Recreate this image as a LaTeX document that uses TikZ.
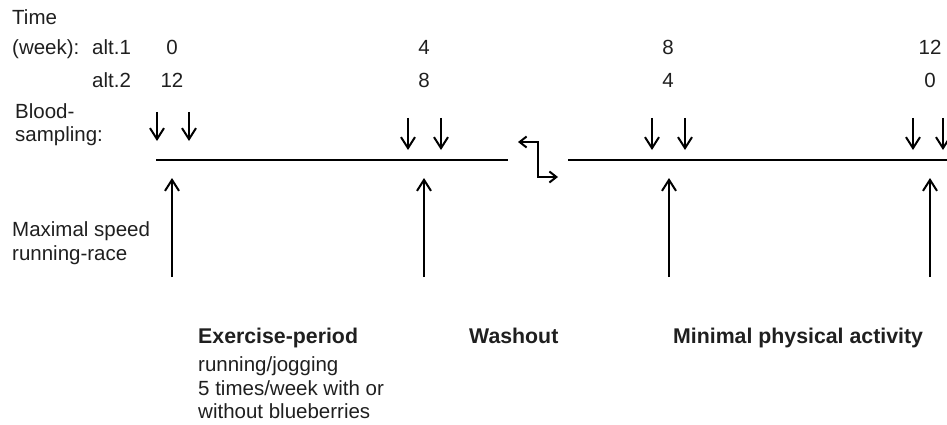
\documentclass[tikz,border=0pt]{standalone}
\usepackage{fontspec}
\setmainfont{Liberation Sans}
\usetikzlibrary{arrows.meta}

\tikzset{
  lbl/.style={inner sep=0pt,anchor=base west},
  wk/.style={inner sep=0pt,anchor=base},
  hd/.style={lbl,font=\fontsize{21.3}{24}\selectfont\bfseries},
  tick/.style={line width=2pt,-{Straight Barb[length=11pt,width=14pt,line width=2pt]}},
  swap/.style={line width=2pt,{Straight Barb[length=7pt,width=11pt,line width=2pt]}-{Straight Barb[length=7pt,width=11pt,line width=2pt]}}
}

\begin{document}
\begin{tikzpicture}
            [x=1pt,y=-1pt,every node/.style={font=\fontsize{20.5}{24}\selectfont,text=black!88}]
            \useasboundingbox (0,0) rectangle (947,425);
            % time axis labels
            \node[lbl] (time) at (12,25) {Time};
            \node[lbl] (week) at (12,55) {(week):};
            \node[lbl] (alt1) at (92,55) {alt.1};
            \node[lbl] (alt2) at (92,88) {alt.2};
            \node[wk] (a0) at (172,55) {0};
            \node[wk] (a4) at (424,55) {4};
            \node[wk] (a8) at (668,55) {8};
            \node[wk] (a12) at (930,55) {12};
            \node[wk] (b12) at (172,88) {12};
            \node[wk] (b8) at (424,88) {8};
            \node[wk] (b4) at (668,88) {4};
            \node[wk] (b0) at (930,88) {0};
            \node[lbl] (blood) at (15,118) {Blood-};
            \node[lbl] (sampl) at (15,142) {sampling:};
            \node[lbl] (maxsp) at (12,236) {Maximal speed};
            \node[lbl] (race) at (12,260) {running-race};
            % periods
            \node[hd] (exper) at (198,343) {Exercise-period};
            \node[lbl] (run) at (198,371) {running/jogging};
            \node[lbl] (times) at (198,395) {5 times/week with or};
            \node[lbl] (berry) at (198,418) {without blueberries};
            \node[hd] (wash) at (469,343) {Washout};
            \node[hd] (minim) at (673,343) {Minimal physical activity};
            % the two periods
            \draw[line width=2.6pt] (156,160) -- (508,160);
            \draw[line width=2.6pt] (568,160) -- (947,160);
            \draw[swap] (518,142) -- (538,142) -- (538,177) -- (558,177);
            % blood sampling
            \draw[tick] (157,112) -- (157,141);
            \draw[tick] (189,112) -- (189,141);
            \draw[tick] (408,118) -- (408,150);
            \draw[tick] (441,118) -- (441,150);
            \draw[tick] (652,118) -- (652,150);
            \draw[tick] (685,118) -- (685,150);
            \draw[tick] (913,118) -- (913,150);
            \draw[tick] (943,118) -- (943,150);
            % running-race
            \draw[tick] (172,277) -- (172,178);
            \draw[tick] (424,277) -- (424,178);
            \draw[tick] (669,277) -- (669,178);
            \draw[tick] (930,277) -- (930,178);
        \end{tikzpicture}
\end{document}
